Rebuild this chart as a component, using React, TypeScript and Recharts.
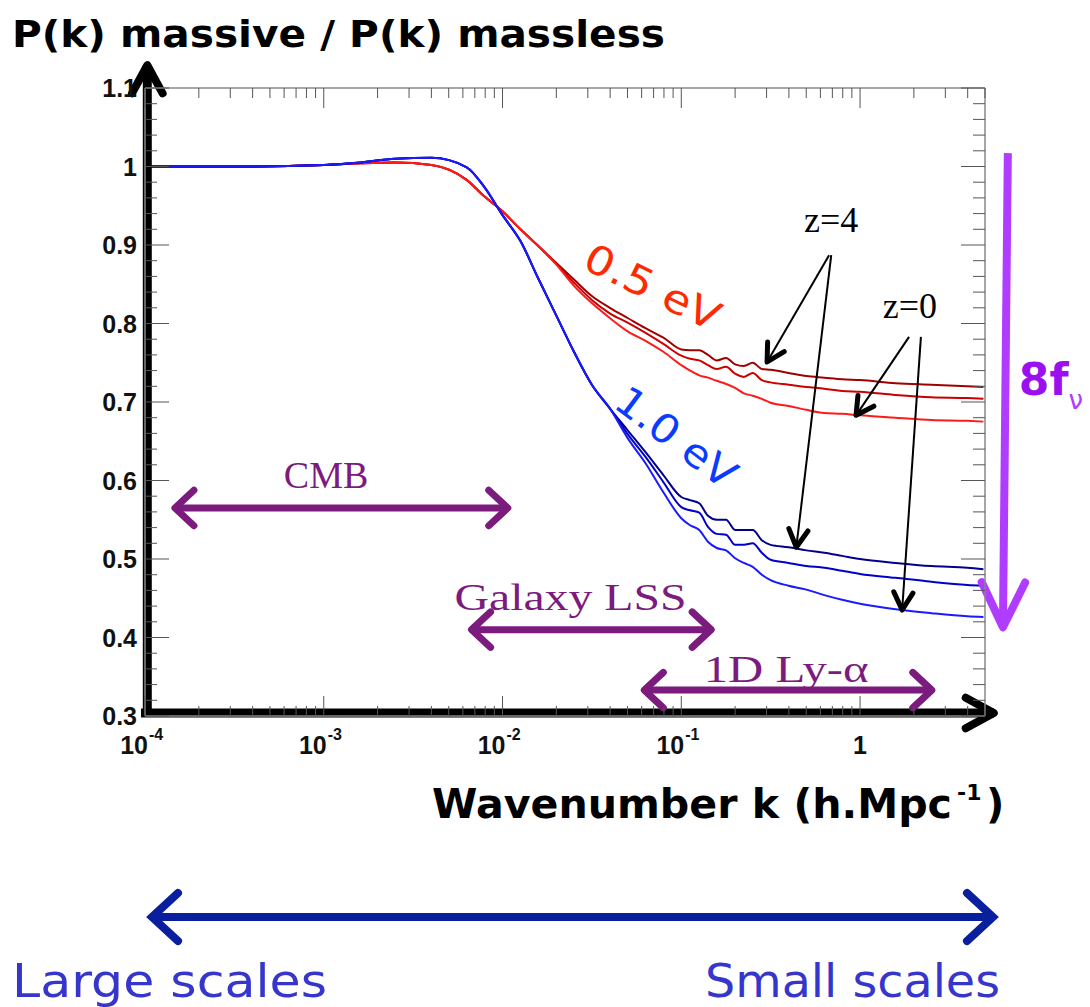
import { LineChart, Line, XAxis, YAxis, ReferenceLine, ReferenceDot } from "recharts";

// wavenumber grid (h/Mpc) shared by all six ratio curves
const kGrid = [
  1e-4, 3.2e-4, 1e-3, 0.0016, 0.0025, 0.004, 0.0063, 0.0079, 0.01, 0.0126, 0.0158, 0.02, 0.0251,
  0.0316, 0.0398, 0.0501, 0.0631, 0.0794, 0.1, 0.112, 0.126, 0.141, 0.158, 0.178, 0.2, 0.224,
  0.251, 0.282, 0.316, 0.398, 0.501, 0.631, 0.794, 1, 1.58, 2.51, 3.98, 4.9,
];

// 0.5 eV, z = 4 / 2 / 0
const ev05z4 = [
  1.0, 1.0, 1.002, 1.004, 1.005, 1.002, 0.983, 0.962, 0.943, 0.92, 0.899, 0.877, 0.856, 0.835,
  0.82, 0.807, 0.794, 0.782, 0.767, 0.766, 0.766, 0.76, 0.753, 0.756, 0.748, 0.746, 0.75, 0.742,
  0.741, 0.737, 0.733, 0.731, 0.729, 0.728, 0.724, 0.722, 0.72, 0.719,
];
const ev05z2 = [
  1.0, 1.0, 1.002, 1.004, 1.005, 1.002, 0.983, 0.962, 0.943, 0.92, 0.899, 0.876, 0.852, 0.83,
  0.813, 0.801, 0.788, 0.774, 0.759, 0.755, 0.753, 0.747, 0.742, 0.745, 0.736, 0.732, 0.737, 0.728,
  0.725, 0.722, 0.719, 0.717, 0.714, 0.713, 0.709, 0.706, 0.705, 0.704,
];
const ev05z0 = [
  1.0, 1.0, 1.002, 1.004, 1.005, 1.002, 0.983, 0.962, 0.943, 0.92, 0.899, 0.875, 0.848, 0.826,
  0.807, 0.79, 0.778, 0.764, 0.747, 0.74, 0.734, 0.731, 0.727, 0.723, 0.718, 0.711, 0.708, 0.704,
  0.699, 0.695, 0.69, 0.686, 0.685, 0.683, 0.68, 0.677, 0.676, 0.675,
];

// 1.0 eV, z = 4 / 2 / 0
const ev10z4 = [
  1.0, 1.0, 1.002, 1.005, 1.01, 1.011, 0.999, 0.974, 0.938, 0.905, 0.858, 0.81, 0.764, 0.722,
  0.692, 0.664, 0.636, 0.607, 0.579, 0.575, 0.571, 0.555, 0.55, 0.55, 0.537, 0.537, 0.537, 0.524,
  0.518, 0.515, 0.511, 0.508, 0.504, 0.5, 0.495, 0.491, 0.489, 0.487,
];
const ev10z2 = [
  1.0, 1.0, 1.002, 1.005, 1.01, 1.011, 0.999, 0.974, 0.938, 0.905, 0.858, 0.81, 0.764, 0.722,
  0.692, 0.659, 0.63, 0.598, 0.566, 0.562, 0.559, 0.541, 0.532, 0.531, 0.518, 0.518, 0.52, 0.508,
  0.499, 0.495, 0.491, 0.489, 0.485, 0.481, 0.476, 0.471, 0.467, 0.466,
];
const ev10z0 = [
  1.0, 1.0, 1.002, 1.005, 1.01, 1.011, 0.999, 0.974, 0.938, 0.905, 0.858, 0.81, 0.764, 0.722,
  0.692, 0.654, 0.622, 0.585, 0.552, 0.543, 0.537, 0.522, 0.514, 0.511, 0.501, 0.495, 0.49, 0.48,
  0.473, 0.466, 0.461, 0.454, 0.448, 0.443, 0.436, 0.431, 0.427, 0.426,
];

const xMajor = [1e-4, 1e-3, 1e-2, 1e-1, 1];
const xMajorExp = ["-4", "-3", "-2", "-1", ""];
const yMajor = [0.3, 0.4, 0.5, 0.6, 0.7, 0.8, 0.9, 1.0, 1.1];
const yMajorLabels = ["0.3", "0.4", "0.5", "0.6", "0.7", "0.8", "0.9", "1", "1.1"];

const K_MAX = 5;

const rows = kGrid.map((k, i) => ({
  k,
  a4: ev05z4[i],
  a2: ev05z2[i],
  a0: ev05z0[i],
  b4: ev10z4[i],
  b2: ev10z2[i],
  b0: ev10z0[i],
}));

const xMinor: number[] = [];
xMajor.forEach((d) => {
  for (let m = 2; m <= 9; m++) {
    const v = parseFloat((m * d).toPrecision(3));
    if (v <= K_MAX) xMinor.push(v);
  }
});
const xTicks = [...xMajor, ...xMinor].sort((a, b) => a - b);

const yTicks: number[] = [];
for (let i = 0; i <= 40; i++) yTicks.push(Math.round((0.3 + i * 0.02) * 100) / 100);

const TICK = "#555";
const FRAME = "#888";
const labelFont = { fontFamily: "'Liberation Sans', Arial, sans-serif", fontWeight: 700, fill: "#111" };
const comic = "'Comic Sans MS', 'DejaVu Sans', sans-serif";
const serif = "'Liberation Serif', 'Times New Roman', serif";
const PURPLE = "#7b1b7e";

function isMajor(list: number[], v: number) {
  return list.some((m) => Math.abs(m - v) < 1e-9);
}

function FrameTick(props: any) {
  const { x, y, payload, side } = props;
  const v = payload.value;
  if (side === "bottom" || side === "top") {
    const major = isMajor(xMajor, v);
    const len = major ? 20 : 10;
    const dir = side === "bottom" ? -1 : 1;
    const idx = xMajor.findIndex((m) => Math.abs(m - v) < 1e-9);
    return (
      <g>
        <line x1={x} x2={x} y1={y} y2={y + dir * len} stroke={TICK} strokeWidth={1} />
        {side === "bottom" && major && (xMajorExp[idx] === "" ? (
          <text x={x} y={y + 38} textAnchor="middle" fontSize={25} {...labelFont}>1</text>
        ) : (
          <g>
            <text x={x + 3} y={y + 38} textAnchor="end" fontSize={25} {...labelFont}>10</text>
            <text x={x + 4} y={y + 24} textAnchor="start" fontSize={16} {...labelFont}>{xMajorExp[idx]}</text>
          </g>
        ))}
      </g>
    );
  }
  const major = isMajor(yMajor, v);
  const len = major ? 24 : 12;
  const dir = side === "left" ? 1 : -1;
  const idx = yMajor.findIndex((m) => Math.abs(m - v) < 1e-9);
  return (
    <g>
      <line x1={x} x2={x + dir * len} y1={y} y2={y} stroke={TICK} strokeWidth={1} />
      {side === "left" && major && (
        <text x={x - 8} y={y + 9} textAnchor="end" fontSize={25} {...labelFont}>{yMajorLabels[idx]}</text>
      )}
    </g>
  );
}

type ArrowStyle = { color: string; line: number; head: number; headLen: number; spread: number; both?: boolean };

function chevron(tx: number, ty: number, ang: number, s: ArrowStyle) {
  const ax = tx - s.headLen * Math.cos(ang - s.spread);
  const ay = ty - s.headLen * Math.sin(ang - s.spread);
  const bx = tx - s.headLen * Math.cos(ang + s.spread);
  const by = ty - s.headLen * Math.sin(ang + s.spread);
  return (
    <polyline
      points={`${ax},${ay} ${tx},${ty} ${bx},${by}`}
      fill="none"
      stroke={s.color}
      strokeWidth={s.head}
      strokeLinecap="round"
      strokeLinejoin="round"
    />
  );
}

function arrowShape(s: ArrowStyle) {
  return (p: any) => {
    const { x1, y1, x2, y2 } = p;
    const a = Math.atan2(y2 - y1, x2 - x1);
    return (
      <g>
        <line x1={x1} y1={y1} x2={x2} y2={y2} stroke={s.color} strokeWidth={s.line} strokeLinecap="butt" />
        {chevron(x2, y2, a, s)}
        {s.both && chevron(x1, y1, a + Math.PI, s)}
      </g>
    );
  };
}

function textShape(content: React.ReactNode, opts: any, angle = 0) {
  return (p: any) => (
    <text
      x={p.cx}
      y={p.cy}
      transform={angle ? `rotate(${angle} ${p.cx} ${p.cy})` : undefined}
      {...opts}
    >
      {content}
    </text>
  );
}

const axisArrow: ArrowStyle = { color: "#000", line: 9, head: 8, headLen: 32, spread: 0.5 };
const rangeArrow: ArrowStyle = { color: PURPLE, line: 7, head: 7, headLen: 26, spread: 0.75, both: true };
const pointer: ArrowStyle = { color: "#000", line: 2, head: 5, headLen: 20, spread: 0.5 };
const nuArrow: ArrowStyle = { color: "#b03cff", line: 8, head: 8, headLen: 50, spread: 0.45 };

// shared settings for the four frame axes (ticks point into the plot)
const frameAxis = {
  type: "number" as const,
  allowDataOverflow: true,
  interval: 0 as const,
  tickSize: 0,
  tickMargin: 0,
  tickLine: false,
  axisLine: { stroke: FRAME, strokeWidth: 1.5 },
};

export default function App() {
  return (
    <div style={{ position: "absolute", left: 0, top: 0, width: 1090, height: 1007, background: "#fff" }}>
      <LineChart
        width={1090}
        height={1007}
        data={rows}
        margin={{ top: 87, right: 104, bottom: 290, left: 144 }}
      >
        <XAxis
          {...frameAxis}
          dataKey="k"
          scale="log"
          domain={[1e-4, K_MAX]}
          ticks={xTicks}
          height={1}
          tick={(p: any) => <FrameTick {...p} side="bottom" />}
        />
        <XAxis
          {...frameAxis}
          xAxisId="t"
          orientation="top"
          dataKey="k"
          scale="log"
          domain={[1e-4, K_MAX]}
          ticks={xTicks}
          height={1}
          tick={(p: any) => <FrameTick {...p} side="top" />}
        />
        <YAxis
          {...frameAxis}
          domain={[0.3, 1.1]}
          ticks={yTicks}
          width={1}
          tick={(p: any) => <FrameTick {...p} side="left" />}
        />
        <YAxis
          {...frameAxis}
          yAxisId="r"
          orientation="right"
          domain={[0.3, 1.1]}
          ticks={yTicks}
          width={1}
          tick={(p: any) => <FrameTick {...p} side="right" />}
        />

        <Line type="monotone" dataKey="a4" stroke="#a00000" strokeWidth={2} dot={false} isAnimationActive={false} />
        <Line type="monotone" dataKey="a2" stroke="#cc0000" strokeWidth={2} dot={false} isAnimationActive={false} />
        <Line type="monotone" dataKey="a0" stroke="#ff1a1a" strokeWidth={2} dot={false} isAnimationActive={false} />
        <Line type="monotone" dataKey="b4" stroke="#00008c" strokeWidth={2} dot={false} isAnimationActive={false} />
        <Line type="monotone" dataKey="b2" stroke="#0000cc" strokeWidth={2} dot={false} isAnimationActive={false} />
        <Line type="monotone" dataKey="b0" stroke="#1a1aff" strokeWidth={2} dot={false} isAnimationActive={false} />

        {/* heavy black axes */}
        <ReferenceLine segment={[{ x: 1.03e-4, y: 0.3 }, { x: 1.03e-4, y: 1.129 }]} ifOverflow="visible" shape={arrowShape(axisArrow)} />
        <ReferenceLine segment={[{ x: 9.5e-5, y: 0.3038 }, { x: 5.6, y: 0.3038 }]} ifOverflow="visible" shape={arrowShape(axisArrow)} />

        {/* probe ranges */}
        <ReferenceLine segment={[{ x: 1.47e-4, y: 0.565 }, { x: 0.0107, y: 0.565 }]} ifOverflow="visible" shape={arrowShape(rangeArrow)} />
        <ReferenceLine segment={[{ x: 0.00671, y: 0.41 }, { x: 0.147, y: 0.41 }]} ifOverflow="visible" shape={arrowShape(rangeArrow)} />
        <ReferenceLine segment={[{ x: 0.0621, y: 0.333 }, { x: 2.52, y: 0.333 }]} ifOverflow="visible" shape={arrowShape(rangeArrow)} />
        <ReferenceDot x={0.00103} y={0.59} r={0} ifOverflow="visible"
          shape={textShape("CMB", { fontFamily: serif, fontSize: 38, fill: PURPLE, textAnchor: "middle" })} />
        <ReferenceDot x={0.024} y={0.435} r={0} ifOverflow="visible"
          shape={textShape("Galaxy LSS", { fontFamily: serif, fontSize: 38, fill: PURPLE, textAnchor: "middle", textLength: 232, lengthAdjust: "spacingAndGlyphs" })} />
        <ReferenceDot x={0.386} y={0.343} r={0} ifOverflow="visible"
          shape={textShape("1D Ly-α", { fontFamily: serif, fontSize: 38, fill: PURPLE, textAnchor: "middle", textLength: 165, lengthAdjust: "spacingAndGlyphs" })} />

        {/* redshift pointers */}
        <ReferenceLine segment={[{ x: 0.671, y: 0.887 }, { x: 0.302, y: 0.751 }]} ifOverflow="visible" shape={arrowShape(pointer)} />
        <ReferenceLine segment={[{ x: 0.69, y: 0.887 }, { x: 0.44, y: 0.515 }]} ifOverflow="visible" shape={arrowShape(pointer)} />
        <ReferenceLine segment={[{ x: 1.88, y: 0.783 }, { x: 0.95, y: 0.683 }]} ifOverflow="visible" shape={arrowShape(pointer)} />
        <ReferenceLine segment={[{ x: 2.19, y: 0.783 }, { x: 1.72, y: 0.435 }]} ifOverflow="visible" shape={arrowShape(pointer)} />
        <ReferenceDot x={0.689} y={0.917} r={0} ifOverflow="visible"
          shape={textShape("z=4", { fontFamily: serif, fontSize: 36, fill: "#000", textAnchor: "middle" })} />
        <ReferenceDot x={1.9} y={0.807} r={0} ifOverflow="visible"
          shape={textShape("z=0", { fontFamily: serif, fontSize: 36, fill: "#000", textAnchor: "middle" })} />

        {/* mass labels */}
        <ReferenceDot x={0.0679} y={0.843} r={0} ifOverflow="visible"
          shape={textShape("0.5 eV", { fontFamily: comic, fontSize: 40, fill: "#ff2a00", textAnchor: "middle", dominantBaseline: "middle", textLength: 146, lengthAdjust: "spacingAndGlyphs" }, 26)} />
        <ReferenceDot x={0.0914} y={0.652} r={0} ifOverflow="visible"
          shape={textShape("1.0 eV", { fontFamily: comic, fontSize: 40, fill: "#0a3cff", textAnchor: "middle", dominantBaseline: "middle", textLength: 140, lengthAdjust: "spacingAndGlyphs" }, 37)} />

        {/* suppression amplitude */}
        <ReferenceLine segment={[{ x: 6.71, y: 1.017 }, { x: 6.3, y: 0.413 }]} ifOverflow="visible" shape={arrowShape(nuArrow)} />
        <ReferenceDot x={7.73} y={0.709} r={0} ifOverflow="visible"
          shape={textShape(
            <>
              <tspan fontWeight={700} fill="#9a10ee">8f</tspan>
              <tspan fontSize={26} dy={14} fill="#b03cff">ν</tspan>
            </>,
            { fontFamily: comic, fontSize: 44, textAnchor: "start" },
          )} />
      </LineChart>

      <svg width={1090} height={1007} style={{ position: "absolute", left: 0, top: 0, pointerEvents: "none" }}>
        <text x={12} y={47} fontFamily={comic} fontWeight={700} fontSize={38} fill="#000"
          textLength={653} lengthAdjust="spacingAndGlyphs">P(k) massive / P(k) massless</text>
        <text x={432} y={818} fontFamily={comic} fontWeight={700} fontSize={40} fill="#000"
          textLength={520} lengthAdjust="spacingAndGlyphs">Wavenumber k (h.Mpc</text>
        <text x={957} y={800} fontFamily={comic} fontWeight={700} fontSize={22} fill="#000">-1</text>
        <text x={986} y={818} fontFamily={comic} fontWeight={700} fontSize={40} fill="#000">)</text>

        <line x1={152} y1={917} x2={993} y2={917} stroke="#0a1f9e" strokeWidth={8} />
        <polyline points="178,893 152,917 178,941" fill="none" stroke="#0a1f9e" strokeWidth={8} strokeLinecap="round" />
        <polyline points="967,893 993,917 967,941" fill="none" stroke="#0a1f9e" strokeWidth={8} strokeLinecap="round" />

        <text x={12} y={997} fontFamily={comic} fontSize={46} fill="#3636cc"
          textLength={315} lengthAdjust="spacingAndGlyphs">Large scales</text>
        <text x={705} y={997} fontFamily={comic} fontSize={46} fill="#3636cc"
          textLength={295} lengthAdjust="spacingAndGlyphs">Small scales</text>
      </svg>
    </div>
  );
}
